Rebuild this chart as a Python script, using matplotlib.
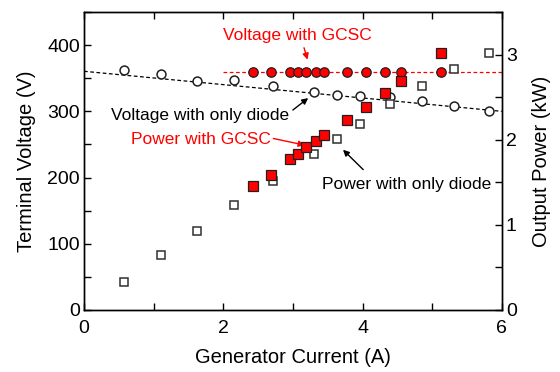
import matplotlib
matplotlib.use("Agg")
import matplotlib.pyplot as plt
from matplotlib.ticker import MultipleLocator

plt.rcParams['font.family'] = ['Liberation Sans', 'DejaVu Sans']
plt.rcParams['xtick.direction'] = 'in'
plt.rcParams['ytick.direction'] = 'in'

# Diode-only rectifier measurements
diode_current = [0.58, 1.11, 1.62, 2.16, 2.71, 3.31, 3.63, 3.97, 4.40, 4.85, 5.32, 5.81]
diode_voltage = [363, 357, 346, 347, 339, 329, 325, 323, 321, 315, 308, 301]
diode_power = [0.333, 0.647, 0.933, 1.235, 1.518, 1.83, 2.01, 2.18, 2.42, 2.63, 2.83, 3.02]

# GCSC measurements
gcsc_current = [2.43, 2.68, 2.96, 3.07, 3.19, 3.33, 3.44, 3.78, 4.05, 4.33, 4.56, 5.13]
gcsc_voltage = [360, 360, 360, 360, 360, 360, 360, 360, 360, 360, 360, 360]
gcsc_power = [1.455, 1.59, 1.77, 1.835, 1.91, 1.99, 2.05, 2.235, 2.38, 2.55, 2.69, 3.02]

# Trend lines
diode_fit_x = [0, 6]
diode_fit_v = [360.5, 300]
gcsc_fit_x = [2.0, 6]
gcsc_fit_v = [360, 360]

fig = plt.figure(figsize=(5.6, 3.72), dpi=100)
ax = fig.add_axes([0.15, 0.1667, 0.746, 0.801])
ax2 = ax.twinx()

red = '#ff0000'
ms = 6.4

ax.plot(diode_fit_x, diode_fit_v, ls=(0, (3, 2)), color='black', lw=0.9, zorder=1)
ax.plot(gcsc_fit_x, gcsc_fit_v, ls=(0, (3, 2)), color=red, lw=0.9, zorder=1)

ax.plot(diode_current, diode_voltage, ls='none', marker='o', ms=ms,
        mfc='white', mec='#202020', mew=1.1, zorder=3)
ax.plot(gcsc_current, gcsc_voltage, ls='none', marker='o', ms=ms + 0.4,
        mfc=red, mec='#202020', mew=0.9, zorder=4)

ax2.plot(diode_current, diode_power, ls='none', marker='s', ms=ms,
         mfc='white', mec='#303030', mew=1.1, zorder=3)
ax2.plot(gcsc_current, gcsc_power, ls='none', marker='s', ms=ms + 0.4,
         mfc=red, mec='#202020', mew=0.9, zorder=4)

ax.set_xlim(0, 6)
ax.set_ylim(0, 450)
ax2.set_ylim(0, 3.5)

ax.xaxis.set_major_locator(MultipleLocator(2))
ax.xaxis.set_minor_locator(MultipleLocator(1))
ax.yaxis.set_major_locator(MultipleLocator(100))
ax.yaxis.set_minor_locator(MultipleLocator(50))
ax2.yaxis.set_major_locator(MultipleLocator(1))
ax2.yaxis.set_minor_locator(MultipleLocator(0.5))

ax.tick_params(which='both', top=True, labelsize=14, width=1.0, length=5)
ax.tick_params(axis='x', pad=7)
ax.tick_params(axis='y', pad=3)
ax2.tick_params(which='both', labelsize=14, width=1.0, length=5, pad=3)

for a in (ax, ax2):
    for s in a.spines.values():
        s.set_linewidth(1.0)

ax.set_xlabel('Generator Current (A)', fontsize=14.5, labelpad=8)
ax.set_ylabel('Terminal Voltage (V)', fontsize=14.5, labelpad=8)
ax2.set_ylabel('Output Power (kW)', fontsize=14.5, labelpad=11)

arrow = dict(arrowstyle='-|>', lw=1.0, mutation_scale=9, shrinkA=0, shrinkB=0)

ax.text(3.06, 415, 'Voltage with GCSC', color=red, fontsize=12.5,
        ha='center', va='center')
ax.annotate('', xy=(3.21, 378), xytext=(3.16, 396),
            arrowprops=dict(arrow, color=red))

ax.text(1.67, 294, 'Voltage with only diode', color='black', fontsize=12.5,
        ha='center', va='center')
ax.annotate('', xy=(3.22, 320), xytext=(3.00, 302),
            arrowprops=dict(arrow, color='black'))

ax.text(1.68, 257, 'Power with GCSC', color=red, fontsize=12.5,
        ha='center', va='center')
ax.annotate('', xy=(3.17, 249), xytext=(2.72, 259),
            arrowprops=dict(arrow, color=red))

ax.text(4.64, 190, 'Power with only diode', color='black', fontsize=12.5,
        ha='center', va='center')
ax.annotate('', xy=(3.72, 242), xytext=(4.01, 212),
            arrowprops=dict(arrow, color='black'))

fig.savefig('out.png', dpi=100)
